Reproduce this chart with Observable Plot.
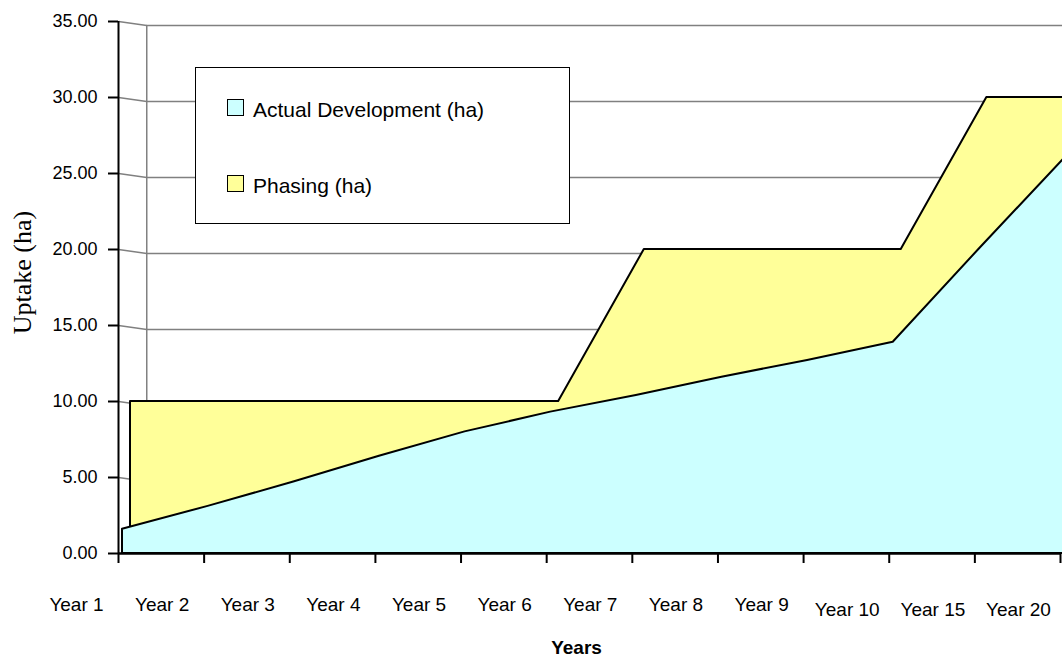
<!DOCTYPE html>
<html>
<head>
<meta charset="utf-8">
<script src="https://cdn.jsdelivr.net/npm/d3@7"></script>
<script src="https://cdn.jsdelivr.net/npm/@observablehq/plot@0.6"></script>
<style>
  html, body { margin: 0; padding: 0; background: #fff; overflow: hidden; }
  #wrap { position: relative; width: 1062px; height: 658px; }
  #legend {
    position: absolute; left: 195px; top: 67px; width: 375px; height: 157px;
    box-sizing: border-box; border: 1.5px solid #000; background: #fff;
    font-family: "Liberation Sans", Arial, sans-serif; font-size: 21px; color: #000;
  }
  .sw { position: absolute; left: 31px; width: 15px; height: 15px; border: 1.5px solid #000; }
  .lt { position: absolute; left: 57px; line-height: 21px; white-space: nowrap; }
</style>
</head>
<body>
<div id="wrap">
  <div id="chart"></div>
  <div id="legend">
    <div class="sw" style="top:31px;background:#CCFFFF"></div>
    <div class="lt" style="top:31px">Actual Development (ha)</div>
    <div class="sw" style="top:107px;background:#FFFF99"></div>
    <div class="lt" style="top:107px">Phasing (ha)</div>
  </div>
</div>
<script>
const years = ["Year 1","Year 2","Year 3","Year 4","Year 5","Year 6","Year 7","Year 8","Year 9","Year 10","Year 15","Year 20"];
const phasing = [10,10,10,10,10,10,20,20,20,20,30,30];
const actual = [1.6,3.1,4.7,6.4,8.0,9.3,10.4,11.6,12.7,13.9,20.0,26.0];
const yTicks = [0,5,10,15,20,25,30,35];
const gridVals = [5,10,15,20,25,30,35];

const idx = years.map((_, i) => i);
const data = years.map((y, i) => ({i, year: y, phasing: phasing[i], actual: actual[i]}));

// style constants for the pseudo-3D back wall
const depth = 0.33;
const wallDrop = 0.26;

const font = "'Liberation Sans', Arial, sans-serif";

const chart = Plot.plot({
  width: 1062,
  height: 658,
  marginLeft: 118,
  marginRight: 2,
  marginTop: 21,
  marginBottom: 105,
  style: {fontFamily: font, fontSize: "18px", color: "#000", background: "#fff"},
  x: {domain: [0, 11], axis: null},
  y: {domain: [0, 35], axis: null},
  marks: [
    // back wall
    Plot.ruleX([depth], {y1: 0, y2: 35 - wallDrop, stroke: "#808080", strokeWidth: 1.5}),
    Plot.link(gridVals, {x1: 0, x2: depth, y1: d => d, y2: d => d - wallDrop, stroke: "#808080", strokeWidth: 1.5}),
    Plot.ruleY(gridVals, {y: d => d - wallDrop, x1: depth, x2: 11.05, stroke: "#808080", strokeWidth: 1.5}),
    // areas
    Plot.areaY(data, {x: "i", y: "phasing", fill: "#FFFF99", stroke: "#000", strokeWidth: 2, dx: 12, curve: "linear"}),
    Plot.areaY(data, {x: "i", y: "actual", fill: "#CCFFFF", stroke: "#000", strokeWidth: 2, dx: 4, curve: "linear"}),
    // axes lines
    Plot.ruleY([0], {stroke: "#000", strokeWidth: 2.5}),
    Plot.ruleX([0], {y1: 0, y2: 35, stroke: "#000", strokeWidth: 2}),
    Plot.axisY({ticks: yTicks, tickSize: 10, tickPadding: 11, tickFormat: d3.format(".2f"), stroke: "#000", strokeWidth: 2, fontSize: 18, label: null}),
    Plot.axisX({ticks: idx, tickSize: 10, tickFormat: () => "", stroke: "#000", strokeWidth: 2, label: null}),
    Plot.axisX({ticks: idx.slice(0, 9), tickSize: 0, tickPadding: 44, dx: -42, tickFormat: i => years[i], fontSize: 19, label: null}),
    Plot.axisX({ticks: idx.slice(9), tickSize: 0, tickPadding: 49, dx: -42, tickFormat: i => years[i], fontSize: 19, label: null}),
    // titles
    Plot.text(["Years"], {frameAnchor: "bottom", dx: -13, dy: 100, text: d => d, fontWeight: "bold", fontSize: 19}),
    Plot.text(["Uptake (ha)"], {frameAnchor: "left", textAnchor: "middle", rotate: -90, dx: -96, dy: -15, text: d => d, fontSize: 26, fontFamily: "'Liberation Serif', 'Times New Roman', serif"})
  ]
});
document.getElementById("chart").appendChild(chart);
</script>
</body>
</html>
